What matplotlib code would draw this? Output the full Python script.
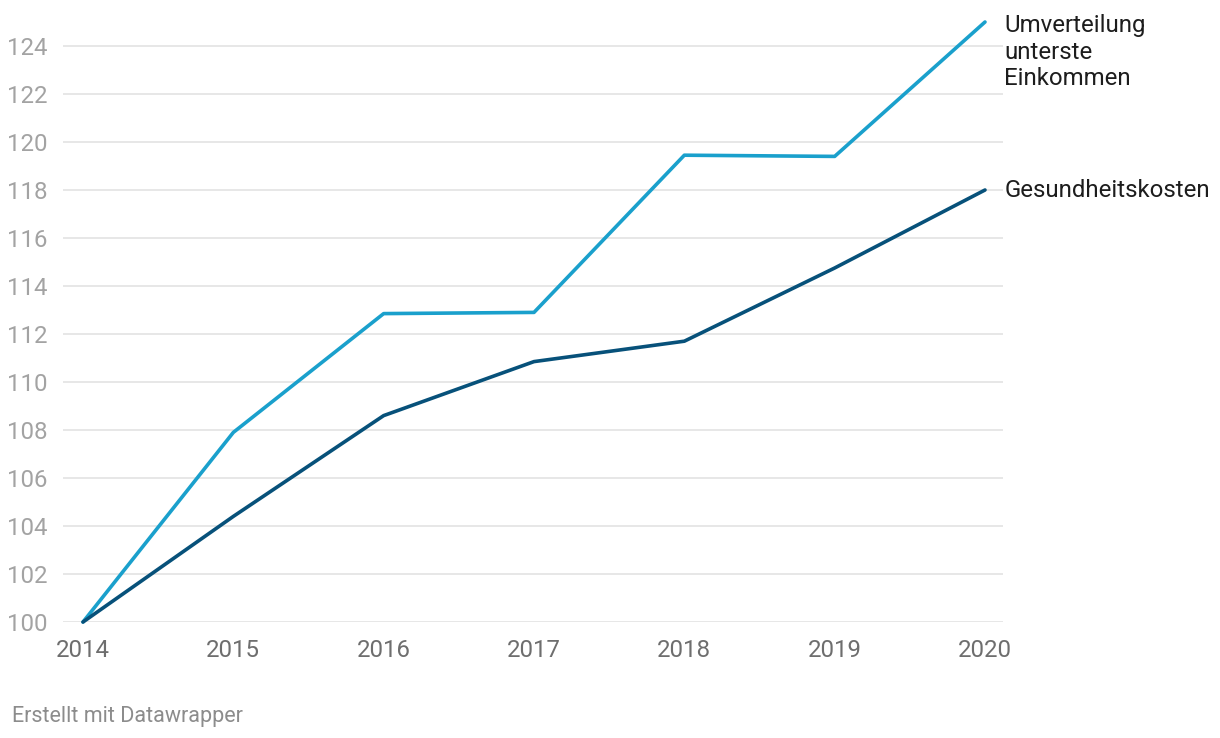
import matplotlib
matplotlib.use("Agg")
import matplotlib.pyplot as plt

plt.rcParams['font.family'] = ['Roboto', 'DejaVu Sans']

years = [2014, 2015, 2016, 2017, 2018, 2019, 2020]
umverteilung = [100.0, 107.9, 112.85, 112.9, 119.45, 119.4, 125.0]
gesundheit = [100.0, 104.4, 108.6, 110.85, 111.7, 114.75, 118.0]
yticks = [100, 102, 104, 106, 108, 110, 112, 114, 116, 118, 120, 122, 124]
label_umv = "Umverteilung\nunterste\nEinkommen"
label_ges = "Gesundheitskosten"
footer = "Erstellt mit Datawrapper"

W, H = 1220, 738
fig = plt.figure(figsize=(W / 100, H / 100), dpi=100)

ymin, ymax = 100, 125.3
px_per_unit = 24.0
left_px, right_px = 63, 1003
bottom_px = 622
top_px = bottom_px - (ymax - ymin) * px_per_unit
ax = fig.add_axes([left_px / W, (H - bottom_px) / H,
                   (right_px - left_px) / W, (bottom_px - top_px) / H])

x_per_year = (985 - 83) / 6.0
ax.set_xlim(2014 - (83 - left_px) / x_per_year, 2020 + (right_px - 985) / x_per_year)
ax.set_ylim(ymin, ymax)

for s in ax.spines.values():
    s.set_visible(False)
ax.set_yticks(yticks)
ax.set_xticks(years)
ax.grid(axis='y', color='#e5e5e5', lw=1.3)
ax.set_axisbelow(True)
ax.tick_params(axis='both', length=0)
ax.tick_params(axis='y', labelsize=17.3, labelcolor='#a3a3a3', pad=11)
ax.tick_params(axis='x', labelsize=17.3, labelcolor='#6e6e6e', pad=12.5)

c_light = '#1aa0cc'
c_dark = '#07517a'
ax.plot(years, umverteilung, color=c_light, lw=2.6, solid_capstyle='round',
        solid_joinstyle='round', clip_on=False, zorder=3)
ax.plot(years, gesundheit, color=c_dark, lw=2.6, solid_capstyle='round',
        solid_joinstyle='round', clip_on=False, zorder=4)

ax.annotate(label_umv, xy=(years[-1], umverteilung[-1]), xytext=(14, -45.5),
            textcoords='offset points', ha='left', va='baseline',
            fontsize=17.3, color='#1d1d1d', linespacing=1.2, annotation_clip=False)
ax.annotate(label_ges, xy=(years[-1], gesundheit[-1]), xytext=(14, -5.2),
            textcoords='offset points', ha='left', va='baseline',
            fontsize=17.3, color='#1d1d1d', annotation_clip=False)

fig.text(12 / W, 1 - 722 / H, footer, ha='left', va='baseline',
         fontsize=15.5, color='#8c8c8c')

fig.savefig('out.png', dpi=100, facecolor='white')
